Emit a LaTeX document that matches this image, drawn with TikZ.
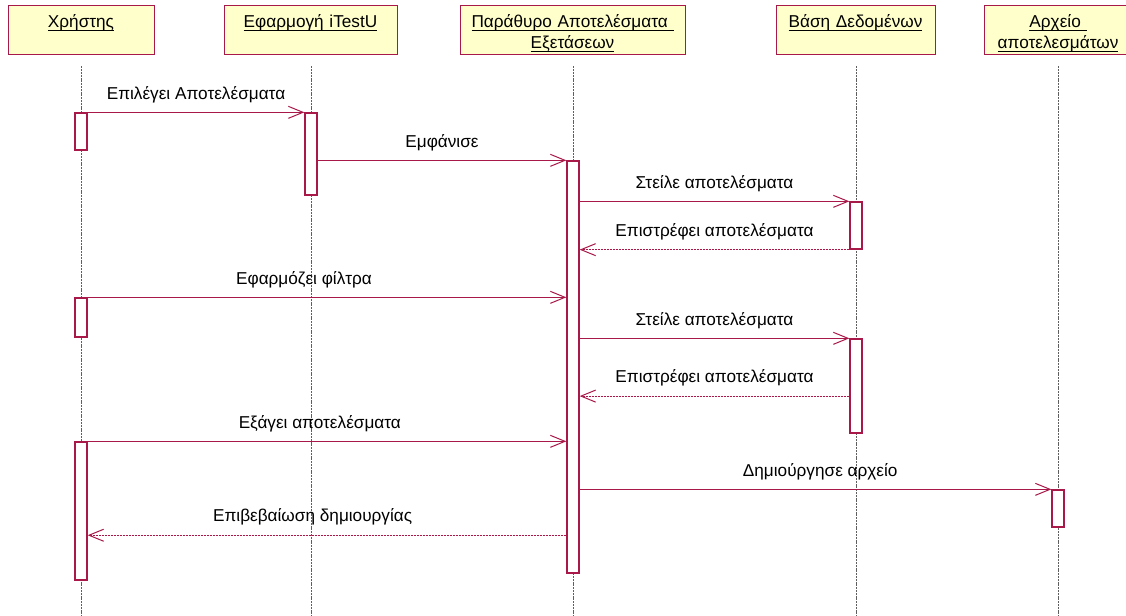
\documentclass[tikz,border=0pt]{standalone}
\usepackage{fontspec}
\setmainfont{Liberation Sans}
\usetikzlibrary{arrows.meta,calc}
\definecolor{umlred}{RGB}{168,24,72}
\definecolor{umlfill}{RGB}{255,255,204}
\definecolor{lifegray}{RGB}{95,95,95}
% underline just below the baseline, ignoring descenders
\newcommand\hdrline[1]{\underline{\smash{#1}}}
\begin{document}
\begin{tikzpicture}[x=0.75pt,y=-0.75pt,
  every node/.style={font=\fontsize{12.9}{15.75}\selectfont},
  objbox/.style={draw=umlred, line width=1.1pt, fill=umlfill, inner sep=0pt,
    anchor=north west, minimum height=36.75pt},
  objtext/.style={anchor=base, align=center, inner sep=0pt},
  life/.style={draw=lifegray, line width=0.75pt, dash pattern=on 1.5pt off 0.6pt},
  act/.style={draw=umlred, line width=1pt, fill=white, minimum width=9pt, inner sep=0pt},
  msg/.style={draw=umlred, line width=0.8pt,
    -{Straight Barb[length=11pt,width=9pt,line width=0.75pt]}},
  ret/.style={msg, dash pattern=on 1.5pt off 0.75pt},
  lbl/.style={anchor=center, yshift=13.5pt, inner sep=0pt}]

\useasboundingbox (0,0) rectangle (1126,616);
\fill[white] (0,0) rectangle (1126,616);
\coordinate (bot) at (0,616);

% object boxes
\node[objbox, minimum width=109.5pt]  (o1) at (8,5)   {};
\node[objbox, minimum width=129.75pt] (o2) at (224,5) {};
\node[objbox, minimum width=168.75pt] (o3) at (460,5) {};
\node[objbox, minimum width=119.25pt] (o4) at (776,5) {};
\node[objbox, minimum width=111pt]    (o5) at (984,5) {};

\node[objtext, text width=109.5pt]  (t1) at (81,28)    {\hdrline{Χρήστης}};
\node[objtext, text width=129.75pt] (t2) at (310.5,28) {\hdrline{Εφαρμογή iTestU}};
\node[objtext, text width=168.75pt] (t3) at (572.5,28) {\hdrline{Παράθυρο Αποτελέσματα\ }\\\hdrline{Εξετάσεων}};
\node[objtext, text width=119.25pt] (t4) at (855.5,28) {\hdrline{Βάση Δεδομένων}};
\node[objtext, text width=111pt]    (t5) at (1058,28)  {\hdrline{Αρχείο\ }\\\hdrline{αποτελεσμάτων}};

% lifelines
\foreach \o in {o1,o2,o3,o4,o5}
  \draw[life] ([yshift=-8.25pt]\o.south) -- (\o.south |- bot);

% activation bars
\node[act, minimum height=27.75pt] (U1) at (81,131.5) {};
\node[act, minimum height=29.25pt] (U2) at (81,317.5) {};
\node[act, minimum height=103.5pt] (U3) at (81,511)   {};
\node[act, minimum height=61.5pt]  (A1) at (311,154)  {};
\node[act, minimum height=309pt]   (P1) at (573,367)  {};
\node[act, minimum height=35.25pt] (D1) at (856,225.5) {};
\node[act, minimum height=70.5pt]  (D2) at (856,386)  {};
\node[act, minimum height=27.75pt] (F1) at (1058,508.5) {};

\coordinate (r7)  at ($(D2.north west)!0.606!(D2.south west)$);
\coordinate (r10) at ($(U3.north east)!0.674!(U3.south east)$);

% messages
\draw[msg] (U1.north east) -- node[lbl] (m1) {Επιλέγει Αποτελέσματα} (A1.north west);
\draw[msg] (P1.north west -| A1.east) -- node[lbl] (m2) {Εμφάνισε} (P1.north west);
\draw[msg] (D1.north west -| P1.east) -- node[lbl] (m3) {Στείλε αποτελέσματα} (D1.north west);
\draw[ret] (D1.south west) -- node[lbl] (m4) {Επιστρέφει αποτελέσματα} (D1.south west -| P1.east);
\draw[msg] (U2.north east) -- node[lbl, pos=0.452] (m5) {Εφαρμόζει φίλτρα} (U2.north east -| P1.west);
\draw[msg] (D2.north west -| P1.east) -- node[lbl] (m6) {Στείλε αποτελέσματα} (D2.north west);
\draw[ret] (r7) -- node[lbl] (m7) {Επιστρέφει αποτελέσματα} (r7 -| P1.east);
\draw[msg] (U3.north east) -- node[lbl, pos=0.485] (m8) {Εξάγει αποτελέσματα} (U3.north east -| P1.west);
\draw[msg] (F1.north west -| P1.east) -- node[lbl, pos=0.51] (m9) {Δημιούργησε αρχείο} (F1.north west);
\draw[ret] (r10 -| P1.west) -- node[lbl, pos=0.53] (m10) {Επιβεβαίωση δημιουργίας} (r10);
\end{tikzpicture}
\end{document}
